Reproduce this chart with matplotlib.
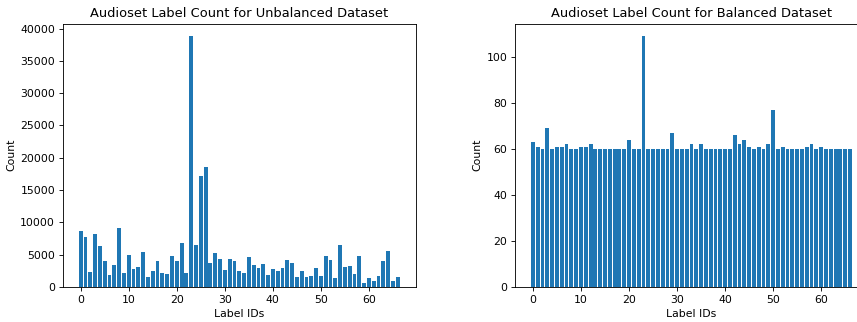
import numpy as np
import matplotlib
matplotlib.use("Agg")
import matplotlib.pyplot as plt

# label counts per AudioSet label id
unbalanced_counts = [8640, 7670, 2315, 8280, 6275, 3960, 1850, 3395, 9160, 2210,
                     4940, 2780, 3090, 5400, 1540, 2520, 3960, 2110, 1955, 4730,
                     3960, 6740, 2110, 38840, 6480, 17130, 18520, 3650, 5300, 4320,
                     2620, 4320, 3960, 2420, 2210, 4630, 3395, 2980, 3500, 1800,
                     2730, 2520, 2980, 4170, 3755, 1540, 2420, 1540, 1645, 2880,
                     1750, 4835, 4170, 1340, 6480, 3090, 3190, 1955, 4730, 620,
                     1340, 980, 1645, 3960, 5560, 980, 1540]
balanced_counts = [63, 61, 60, 69, 60, 61, 61, 62, 60, 60, 61, 61, 62, 60, 60, 60, 60,
                   60, 60, 60, 64, 60, 60, 109, 60, 60, 60, 60, 60, 67, 60, 60, 60,
                   62, 60, 62, 60, 60, 60, 60, 60, 60, 66, 62, 64, 61, 60, 61, 60, 62,
                   77, 60, 61, 60, 60, 60, 60, 61, 62, 60, 61, 60, 60, 60, 60, 60, 60]
label_ids = np.arange(len(unbalanced_counts))

DPI = 78
fig = plt.figure(figsize=(857 / DPI, 322 / DPI), dpi=DPI)
ax1 = fig.add_axes([0.0732, 0.1087, 0.4119, 0.8183])
ax2 = fig.add_axes([0.6009, 0.1087, 0.4119, 0.8183])

ax1.bar(label_ids, unbalanced_counts)
ax1.set_title("Audioset Label Count for Unbalanced Dataset")
ax1.set_xlabel("Label IDs")
ax1.set_ylabel("Count")

ax2.bar(label_ids, balanced_counts)
ax2.set_title("Audioset Label Count for Balanced Dataset")
ax2.set_xlabel("Label IDs")
ax2.set_ylabel("Count")

fig.savefig("out.png", dpi=DPI)
